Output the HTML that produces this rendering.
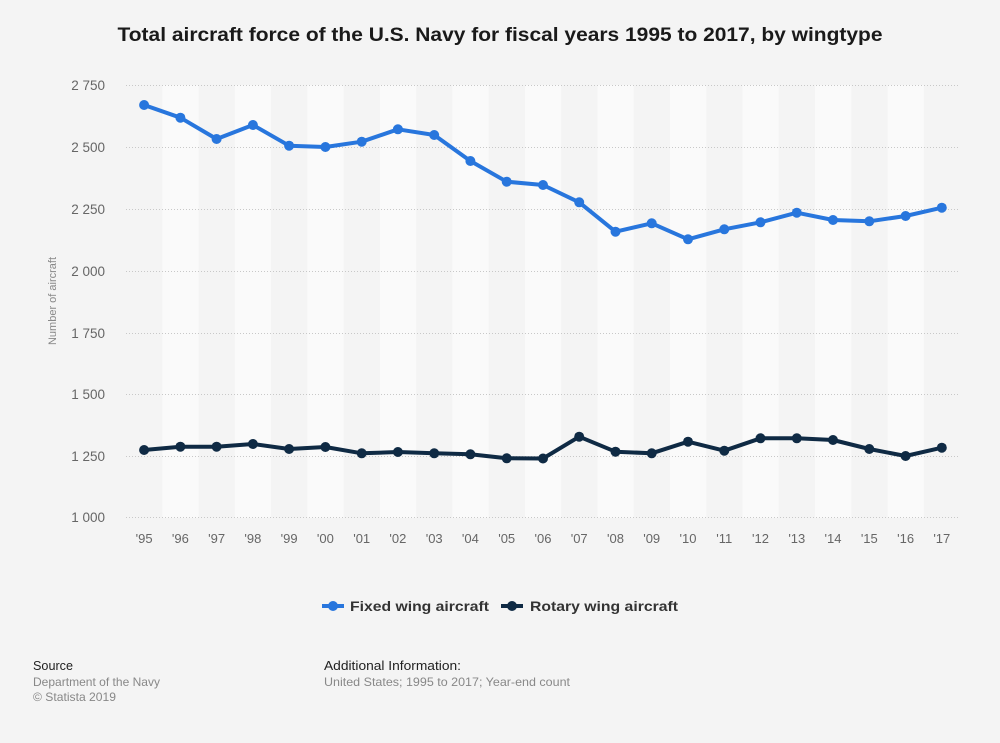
<!DOCTYPE html>
<html><head><meta charset="utf-8"><style>
html,body{margin:0;padding:0;background:#f4f4f4;}
svg{display:block;font-family:"Liberation Sans",Arial,sans-serif;}
</style></head><body>
<svg width="1000" height="743" viewBox="0 0 1000 743" xmlns="http://www.w3.org/2000/svg">
<rect x="0" y="0" width="1000" height="743" fill="#f4f4f4"/>
<text x="500" y="41" text-anchor="middle" font-size="19.5" font-weight="bold" fill="#1a1a1a" textLength="765" lengthAdjust="spacingAndGlyphs">Total aircraft force of the U.S. Navy for fiscal years 1995 to 2017, by wingtype</text>
<g fill="#fafafa">
<rect x="162.3" y="85" width="36.26" height="433"/>
<rect x="234.8" y="85" width="36.26" height="433"/>
<rect x="307.3" y="85" width="36.26" height="433"/>
<rect x="379.9" y="85" width="36.26" height="433"/>
<rect x="452.4" y="85" width="36.26" height="433"/>
<rect x="524.9" y="85" width="36.26" height="433"/>
<rect x="597.5" y="85" width="36.26" height="433"/>
<rect x="670.0" y="85" width="36.26" height="433"/>
<rect x="742.5" y="85" width="36.26" height="433"/>
<rect x="815.1" y="85" width="36.26" height="433"/>
<rect x="887.6" y="85" width="36.26" height="433"/>
</g>
<g stroke="#c8c8c8" stroke-width="1" stroke-dasharray="1,2">
<line x1="126" y1="85.5" x2="960" y2="85.5"/>
<line x1="126" y1="147.5" x2="960" y2="147.5"/>
<line x1="126" y1="209.5" x2="960" y2="209.5"/>
<line x1="126" y1="271.5" x2="960" y2="271.5"/>
<line x1="126" y1="333.5" x2="960" y2="333.5"/>
<line x1="126" y1="394.5" x2="960" y2="394.5"/>
<line x1="126" y1="456.5" x2="960" y2="456.5"/>
<line x1="126" y1="517.5" x2="960" y2="517.5"/>
</g>
<g font-size="13.5" fill="#666" text-anchor="end">
<text x="105" y="90">2 750</text>
<text x="105" y="152">2 500</text>
<text x="105" y="214">2 250</text>
<text x="105" y="276">2 000</text>
<text x="105" y="338">1 750</text>
<text x="105" y="399">1 500</text>
<text x="105" y="461">1 250</text>
<text x="105" y="522">1 000</text>
</g>
<text transform="translate(56,301) rotate(-90)" text-anchor="middle" font-size="11" fill="#888">Number of aircraft</text>
<g font-size="13" fill="#666" text-anchor="middle">
<text x="144.1" y="543">'95</text>
<text x="180.4" y="543">'96</text>
<text x="216.6" y="543">'97</text>
<text x="252.9" y="543">'98</text>
<text x="289.1" y="543">'99</text>
<text x="325.4" y="543">'00</text>
<text x="361.7" y="543">'01</text>
<text x="397.9" y="543">'02</text>
<text x="434.2" y="543">'03</text>
<text x="470.4" y="543">'04</text>
<text x="506.7" y="543">'05</text>
<text x="543.0" y="543">'06</text>
<text x="579.2" y="543">'07</text>
<text x="615.5" y="543">'08</text>
<text x="651.7" y="543">'09</text>
<text x="688.0" y="543">'10</text>
<text x="724.3" y="543">'11</text>
<text x="760.5" y="543">'12</text>
<text x="796.8" y="543">'13</text>
<text x="833.0" y="543">'14</text>
<text x="869.3" y="543">'15</text>
<text x="905.6" y="543">'16</text>
<text x="941.8" y="543">'17</text>
</g>
<polyline fill="none" stroke="#2876dd" stroke-width="4" stroke-linejoin="round" points="144.1,105 180.4,117.7 216.6,139 252.9,125 289.1,145.7 325.4,147 361.7,141.7 397.9,129.3 434.2,135 470.4,161 506.7,181.7 543.0,185 579.2,202.3 615.5,231.7 651.7,223.3 688.0,239.3 724.3,229.3 760.5,222.3 796.8,212.7 833.0,220 869.3,221.3 905.6,216 941.8,207.7"/>
<g fill="#2876dd">
<circle cx="144.1" cy="105" r="5"/><circle cx="180.4" cy="117.7" r="5"/><circle cx="216.6" cy="139" r="5"/><circle cx="252.9" cy="125" r="5"/><circle cx="289.1" cy="145.7" r="5"/><circle cx="325.4" cy="147" r="5"/><circle cx="361.7" cy="141.7" r="5"/><circle cx="397.9" cy="129.3" r="5"/><circle cx="434.2" cy="135" r="5"/><circle cx="470.4" cy="161" r="5"/><circle cx="506.7" cy="181.7" r="5"/><circle cx="543.0" cy="185" r="5"/><circle cx="579.2" cy="202.3" r="5"/><circle cx="615.5" cy="231.7" r="5"/><circle cx="651.7" cy="223.3" r="5"/><circle cx="688.0" cy="239.3" r="5"/><circle cx="724.3" cy="229.3" r="5"/><circle cx="760.5" cy="222.3" r="5"/><circle cx="796.8" cy="212.7" r="5"/><circle cx="833.0" cy="220" r="5"/><circle cx="869.3" cy="221.3" r="5"/><circle cx="905.6" cy="216" r="5"/><circle cx="941.8" cy="207.7" r="5"/>
</g>
<polyline fill="none" stroke="#0f2a44" stroke-width="4" stroke-linejoin="round" points="144.1,450 180.4,446.7 216.6,446.7 252.9,444 289.1,449 325.4,447 361.7,453.3 397.9,452 434.2,453.3 470.4,454.3 506.7,458.3 543.0,458.5 579.2,436.7 615.5,451.7 651.7,453.3 688.0,441.7 724.3,450.7 760.5,438.3 796.8,438.3 833.0,440 869.3,449 905.6,456 941.8,447.7"/>
<g fill="#0f2a44">
<circle cx="144.1" cy="450" r="5"/><circle cx="180.4" cy="446.7" r="5"/><circle cx="216.6" cy="446.7" r="5"/><circle cx="252.9" cy="444" r="5"/><circle cx="289.1" cy="449" r="5"/><circle cx="325.4" cy="447" r="5"/><circle cx="361.7" cy="453.3" r="5"/><circle cx="397.9" cy="452" r="5"/><circle cx="434.2" cy="453.3" r="5"/><circle cx="470.4" cy="454.3" r="5"/><circle cx="506.7" cy="458.3" r="5"/><circle cx="543.0" cy="458.5" r="5"/><circle cx="579.2" cy="436.7" r="5"/><circle cx="615.5" cy="451.7" r="5"/><circle cx="651.7" cy="453.3" r="5"/><circle cx="688.0" cy="441.7" r="5"/><circle cx="724.3" cy="450.7" r="5"/><circle cx="760.5" cy="438.3" r="5"/><circle cx="796.8" cy="438.3" r="5"/><circle cx="833.0" cy="440" r="5"/><circle cx="869.3" cy="449" r="5"/><circle cx="905.6" cy="456" r="5"/><circle cx="941.8" cy="447.7" r="5"/>
</g>
<line x1="322" y1="606" x2="344" y2="606" stroke="#2876dd" stroke-width="4"/>
<circle cx="333" cy="606" r="5" fill="#2876dd"/>
<text x="350" y="611" font-size="14" font-weight="bold" fill="#333" textLength="139" lengthAdjust="spacingAndGlyphs">Fixed wing aircraft</text>
<line x1="501" y1="606" x2="523" y2="606" stroke="#0f2a44" stroke-width="4"/>
<circle cx="512" cy="606" r="5" fill="#0f2a44"/>
<text x="530" y="611" font-size="14" font-weight="bold" fill="#333" textLength="148" lengthAdjust="spacingAndGlyphs">Rotary wing aircraft</text>
<text x="33" y="670" font-size="12.5" fill="#222" textLength="40" lengthAdjust="spacingAndGlyphs">Source</text>
<text x="33" y="686" font-size="12" fill="#888" textLength="127" lengthAdjust="spacingAndGlyphs">Department of the Navy</text>
<text x="33" y="701" font-size="12" fill="#888" textLength="83" lengthAdjust="spacingAndGlyphs">© Statista 2019</text>
<text x="324" y="670" font-size="12.5" fill="#222" textLength="137" lengthAdjust="spacingAndGlyphs">Additional Information:</text>
<text x="324" y="686" font-size="12" fill="#888" textLength="246" lengthAdjust="spacingAndGlyphs">United States; 1995 to 2017; Year-end count</text>
</svg>
</body></html>
